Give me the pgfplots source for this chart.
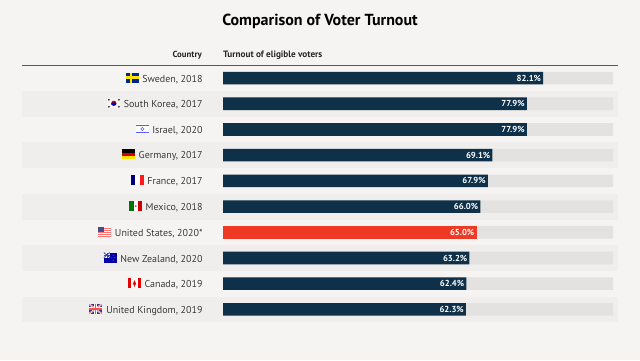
\documentclass[border=0pt]{standalone}
\usepackage{fontspec}
\setmainfont{PT Sans}
\usepackage{pgfplots}
\usepackage{pgfplotstable}
\pgfplotsset{compat=1.18}
\definecolor{bg}{HTML}{F5F4F2}
\definecolor{band}{HTML}{EFEEEC}
\definecolor{track}{HTML}{E3E2E0}
\definecolor{navy}{HTML}{0F3049}
\definecolor{usred}{HTML}{EE3A24}
\definecolor{txt}{HTML}{3A3A3A}
\pgfplotstableread{
y v
0 82.1
1 77.9
2 77.9
3 69.1
4 67.9
5 66.0
7 63.2
8 62.4
9 62.3
}\navydata
\pgfplotstableread{
y v
6 65.0
}\reddata
\pgfplotstableread{
y v
0 100
1 100
2 100
3 100
4 100
5 100
6 100
7 100
8 100
9 100
}\trackdata
\newcommand{\flag}[1]{\tikz[x=1pt,y=1pt,baseline=0.5pt]{#1}\hspace{3.5pt}}
\newcommand{\fSE}{\flag{\fill[blue!50!black!85!cyan] (0,0) rectangle (13,10);\fill[yellow!85!orange] (4,0) rectangle (6.5,10);\fill[yellow!85!orange] (0,3.9) rectangle (13,6.1);}}
\newcommand{\fKR}{\flag{\fill[bg] (0,0) rectangle (13,10);\fill[red!80!black] (6.5,5) circle (2.6);\fill[blue!70!black] (6.5,4.3) ellipse (2.6 and 1.6);\foreach \a/\b in {1.5/8.5,11.5/8.5,1.5/1.5,11.5/1.5}{\fill[black!80] (\a,\b) circle (1);}}}
\newcommand{\fIL}{\flag{\fill[white] (0,0) rectangle (13,10);\fill[blue!65!white] (0,1) rectangle (13,2.2);\fill[blue!65!white] (0,7.8) rectangle (13,9);\draw[blue!65!white,line width=.5pt] (6.5,5) circle (1.6);}}
\newcommand{\fDE}{\flag{\fill[black] (0,6.67) rectangle (13,10);\fill[red!85!black] (0,3.33) rectangle (13,6.67);\fill[yellow!85!orange] (0,0) rectangle (13,3.33);}}
\newcommand{\fFR}{\flag{\fill[blue!50!black] (0,0) rectangle (4.33,10);\fill[white] (4.33,0) rectangle (8.67,10);\fill[red!90!white] (8.67,0) rectangle (13,10);}}
\newcommand{\fMX}{\flag{\fill[green!45!black] (0,0) rectangle (4.33,10);\fill[white] (4.33,0) rectangle (8.67,10);\fill[red!80!black] (8.67,0) rectangle (13,10);\fill[brown!70!black] (6.5,5) circle (1);}}
\newcommand{\fUS}{\flag{\fill[white] (0,0) rectangle (13,10);\foreach \s in {0,2,4,6,8}{\fill[red!55!white] (0,\s) rectangle (13,\s+1);}\fill[blue!35!black!70!white] (0,5) rectangle (5.5,10);}}
\newcommand{\fNZ}{\flag{\fill[blue!65!black] (0,0) rectangle (13,10);\fill[white] (0,5) rectangle (6,10);\draw[blue!65!black,line width=.6pt] (0,10) -- (6,5) (6,10) -- (0,5);\fill[red] (2.7,5) rectangle (3.3,10);\fill[red] (0,7.2) rectangle (6,7.8);\foreach \a/\b in {9.5/7.5,8/5,11/5,9.5/2}{\fill[red!90!white] (\a,\b) circle (.6);}}}
\newcommand{\fCA}{\flag{\fill[red!90!black] (0,0) rectangle (3.4,10);\fill[white] (3.4,0) rectangle (9.6,10);\fill[red!90!black] (9.6,0) rectangle (13,10);\fill[red!90!black] (6.5,8) -- (8.3,4) -- (6.8,3.2) -- (6.8,1.5) -- (6.2,1.5) -- (6.2,3.2) -- (4.7,4) -- cycle;}}
\newcommand{\fUK}{\flag{\fill[blue!40!black!80!white] (0,0) rectangle (13,10);\draw[white,line width=1.6pt] (0,0) -- (13,10) (0,10) -- (13,0);\draw[red!60!white,line width=.6pt] (0,0) -- (13,10) (0,10) -- (13,0);\fill[white] (5,0) rectangle (8,10);\fill[white] (0,3.5) rectangle (13,6.5);\fill[red!70!white] (5.8,0) rectangle (7.2,10);\fill[red!70!white] (0,4.3) rectangle (13,5.7);}}
\begin{document}
\begin{tikzpicture}[x=1pt,y=1pt]
\useasboundingbox (0,0) rectangle (640,-360);
\fill[bg] (0,0) rectangle (640,-360);
\foreach \t in {91,142.4,193.8,245.2,296.6}{\fill[band] (22,-\t) rectangle (618,-\t-25.7);}
\node[font=\fontsize{16}{18}\selectfont\bfseries,text=black] at (320,-21) {Comparison of Voter Turnout};
\node[font=\fontsize{8.8}{10}\selectfont\bfseries,text=black!85,anchor=base east,inner sep=0pt] at (202,-57) {Country};
\node[font=\fontsize{9.2}{10}\selectfont\bfseries,text=black!85,anchor=base west,inner sep=0pt] at (223,-57) {Turnout of eligible voters};
\draw[black!65,line width=1pt] (22,-65) -- (618,-65);
\begin{axis}[
  at={(223pt,-65.2pt)},anchor=north west,
  scale only axis,width=390pt,height=257pt,
  xmin=0,xmax=100,ymin=-0.5,ymax=9.5,y dir=reverse,
  clip=false,
  axis line style={draw=none},
  tick style={draw=none},
  xtick=\empty,
  ytick={0,1,2,3,4,5,6,7,8,9},
  yticklabels={
    {\fSE Sweden, 2018},
    {\fKR South Korea, 2017},
    {\fIL Israel, 2020},
    {\fDE Germany, 2017},
    {\fFR France, 2017},
    {\fMX Mexico, 2018},
    {\fUS United States, 2020*},
    {\fNZ New Zealand, 2020},
    {\fCA Canada, 2019},
    {\fUK United Kingdom, 2019}},
  y tick label style={font=\fontsize{10}{12}\selectfont,text=txt,inner sep=0pt,xshift=-16pt},
  xbar,bar shift=0pt,bar width=12.6pt,
  /pgf/number format/assume math mode=true,
]
\addplot[fill=track,draw=none] table[x=v,y=y] {\trackdata};
\addplot[fill=navy,draw=none,nodes near coords={\pgfmathprintnumber[fixed,fixed zerofill,precision=1,assume math mode=true]{\pgfplotspointmeta}\%},point meta=x,
  every node near coord/.style={anchor=east,text=white,font=\fontsize{8.7}{10}\selectfont\bfseries,inner sep=2pt}] table[x=v,y=y] {\navydata};
\addplot[fill=usred,draw=none,nodes near coords={\pgfmathprintnumber[fixed,fixed zerofill,precision=1,assume math mode=true]{\pgfplotspointmeta}\%},point meta=x,
  every node near coord/.style={anchor=east,text=white,font=\fontsize{8.7}{10}\selectfont\bfseries,inner sep=2pt}] table[x=v,y=y] {\reddata};
\end{axis}
\end{tikzpicture}
\end{document}
